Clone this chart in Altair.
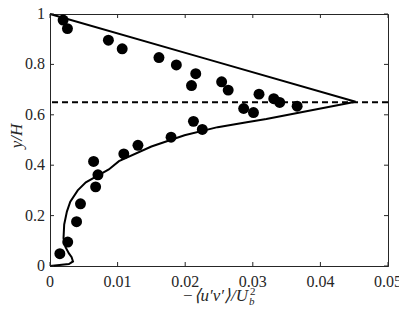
import altair as alt
import pandas as pd

# Experimental points
exp_x = [0.00194, 0.00258, 0.00864, 0.01068, 0.01612, 0.01869, 0.02156, 0.02093,
         0.02539, 0.02636, 0.03092, 0.03310, 0.03398, 0.03656, 0.02865, 0.03010,
         0.02122, 0.02253, 0.01791, 0.01301, 0.01092, 0.00645, 0.00709, 0.00675,
         0.00451, 0.00393, 0.00262, 0.00146]
exp_y = [0.976, 0.942, 0.896, 0.862, 0.827, 0.798, 0.763, 0.716,
         0.731, 0.698, 0.682, 0.664, 0.649, 0.634, 0.625, 0.609,
         0.574, 0.542, 0.511, 0.479, 0.445, 0.415, 0.362, 0.314,
         0.247, 0.176, 0.095, 0.049]

# Model curve
line_x = [0.0, 0.0028, 0.0034, 0.0032, 0.0028, 0.0023, 0.0020, 0.0021, 0.0025,
          0.0030, 0.0041, 0.0053, 0.0070, 0.0087, 0.0102, 0.0150, 0.0199,
          0.0248, 0.0291, 0.0320, 0.0452, 0.0226, 0.0]
line_y = [0.0, 0.008, 0.018, 0.035, 0.050, 0.075, 0.110, 0.165, 0.216,
          0.255, 0.300, 0.332, 0.358, 0.383, 0.416, 0.474, 0.519,
          0.551, 0.570, 0.583, 0.652, 0.826, 1.0]

ref_y = [0.65]
x_ticks = [0, 0.01, 0.02, 0.03, 0.04, 0.05]
x_tick_labels = ["0", "0.01", "0.02", "0.03", "0.04", "0.05"]
y_ticks = [0, 0.2, 0.4, 0.6, 0.8, 1]
y_tick_labels = ["0", "0.2", "0.4", "0.6", "0.8", "1"]

W, H = 338, 252
PL, PT, PR, PB = 42, 6, 11, 40
AX = "#262626"
FONT = "Liberation Serif"

pts_df = pd.DataFrame({"x": exp_x, "y": exp_y})
line_df = pd.DataFrame({"x": line_x, "y": line_y, "i": list(range(len(line_x)))})
ref_df = pd.DataFrame({"y": ref_y})
xt_df = pd.DataFrame({"v": x_ticks, "lab": x_tick_labels})
yt_df = pd.DataFrame({"v": y_ticks, "lab": y_tick_labels})

xs = alt.Scale(domain=[0, 0.05], nice=False, zero=False)
ys = alt.Scale(domain=[0, 1], nice=False, zero=False)

xaxis = alt.Axis(values=x_ticks, labels=False, ticks=False, grid=False, title=None,
                 domainColor=AX)
yaxis = alt.Axis(values=y_ticks, labels=False, ticks=False, grid=False, title=None,
                 domainColor=AX)

base_line = alt.Chart(line_df).mark_line(color="black", strokeWidth=2).encode(
    x=alt.X("x:Q", scale=xs, axis=xaxis),
    y=alt.Y("y:Q", scale=ys, axis=yaxis),
    order="i:Q",
)

pts = alt.Chart(pts_df).mark_circle(size=120, color="black", opacity=1).encode(
    x=alt.X("x:Q", scale=xs, axis=xaxis),
    y=alt.Y("y:Q", scale=ys, axis=yaxis),
)

ref = alt.Chart(ref_df).mark_rule(color="black", strokeWidth=2, strokeDash=[6, 4]).encode(
    y=alt.Y("y:Q", scale=ys, axis=yaxis)
)

tick_style = dict(color=AX, strokeWidth=1)
tb = alt.Chart(xt_df).mark_rule(**tick_style).encode(
    x=alt.X("v:Q", scale=xs, axis=xaxis), y=alt.value(H), y2=alt.value(H - 4))
tt = alt.Chart(xt_df).mark_rule(**tick_style).encode(
    x=alt.X("v:Q", scale=xs, axis=xaxis), y=alt.value(0), y2=alt.value(4))
tl = alt.Chart(yt_df).mark_rule(**tick_style).encode(
    y=alt.Y("v:Q", scale=ys, axis=yaxis), x=alt.value(0), x2=alt.value(4))
tr = alt.Chart(yt_df).mark_rule(**tick_style).encode(
    y=alt.Y("v:Q", scale=ys, axis=yaxis), x=alt.value(W - 4), x2=alt.value(W))

# Tick labels as text marks (serif)
xlab = alt.Chart(xt_df).mark_text(
    font=FONT, fontSize=16, color=AX, baseline="top", align="center").encode(
    x=alt.X("v:Q", scale=xs, axis=xaxis), y=alt.value(H + 8), text="lab:N")
ylab = alt.Chart(yt_df).mark_text(
    font=FONT, fontSize=16, color=AX, baseline="middle", align="right").encode(
    y=alt.Y("v:Q", scale=ys, axis=yaxis), x=alt.value(-5), text="lab:N")

ytitle = alt.Chart(pd.DataFrame({"t": ["y/H"]})).mark_text(
    angle=270, font=FONT, fontStyle="italic", fontSize=17, color=AX,
    baseline="middle", align="center").encode(
    text="t:N", x=alt.value(-33), y=alt.value(122))

xmain = alt.Chart(pd.DataFrame({"t": ["\u2212\u27e8u\u2032v\u2032\u27e9/U"]})).mark_text(
    font=FONT, fontStyle="italic", fontSize=17, color=AX,
    baseline="alphabetic", align="right").encode(
    text="t:N", x=alt.value(198), y=alt.value(287))
xsup = alt.Chart(pd.DataFrame({"t": ["2"]})).mark_text(
    font=FONT, fontSize=11, color=AX, baseline="alphabetic", align="left").encode(
    text="t:N", x=alt.value(200), y=alt.value(281))
xsub = alt.Chart(pd.DataFrame({"t": ["b"]})).mark_text(
    font=FONT, fontStyle="italic", fontSize=11, color=AX, baseline="alphabetic",
    align="left").encode(
    text="t:N", x=alt.value(199), y=alt.value(291))

chart = alt.layer(base_line, ref, pts, tb, tt, tl, tr, xlab, ylab,
                  ytitle, xmain, xsup, xsub).properties(
    width=W, height=H,
    background="white",
    autosize=alt.AutoSizeParams(type="none"),
    padding={"left": PL, "top": PT, "right": PR, "bottom": PB},
).configure_axis(
    domainColor=AX, ticks=False, grid=False, labels=False,
).configure_view(stroke=AX, strokeWidth=1)

chart.save("out.html", embed_options={"renderer": "svg", "actions": False})
